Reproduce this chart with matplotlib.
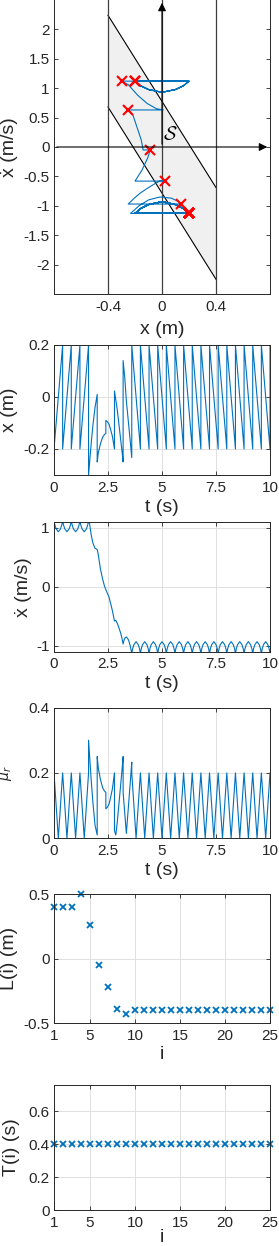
import matplotlib
matplotlib.use("Agg")
import matplotlib.pyplot as plt
import numpy as np

plt.rcParams["font.family"] = ["Liberation Sans", "DejaVu Sans"]
plt.rcParams["axes.unicode_minus"] = False

BLUE = "#0072BD"
DARK = "#262626"
W_PX, H_PX = 279, 1246

# one entry per reset i = 1..25 (reset i closes period i)
T_i = [0.4] * 25
L_i = [0.4, 0.4, 0.4, 0.5, 0.26, -0.05, -0.22, -0.39, -0.43] + [-0.4] * 16
x_before = [0.2, 0.2, 0.2, 0.2, 0.01, -0.14, -0.2, -0.25, -0.233] + [-0.2] * 16
x_after = [-0.2, -0.2, -0.2, -0.3, -0.25, -0.09, 0.023, 0.14, 0.2] + [0.2] * 16
xdot_reset = [1.12, 1.12, 1.12, 1.12, 0.63, -0.05, -0.58, -0.97, -1.13] + [-1.13] * 16
x_start, xdot_start = -0.2, 1.12

# steady periods: velocity scallop
scallop_frac = [0.1, 0.25, 0.5, 0.75, 0.9]
scallop_dip = [0.4, 0.75, 1.0, 0.75, 0.4]
xdot_mid = 0.93

# transient periods 5..9 (1.6 s - 3.6 s), samples inside each period
trans_t = [1.65, 1.72, 1.8, 1.9,
           2.05, 2.15, 2.25, 2.33,
           2.47, 2.55, 2.62, 2.7,
           2.86, 2.93, 3.0, 3.09, 3.15,
           3.23, 3.28, 3.35, 3.45, 3.53]
trans_x = [-0.25, -0.18, -0.11, -0.04,
           -0.215, -0.18, -0.155, -0.145,
           -0.095, -0.105, -0.125, -0.15,
           -0.01, -0.05, -0.1, -0.165, -0.21,
           0.115, 0.07, -0.015, -0.1, -0.17]
trans_xdot = [1.06, 0.88, 0.74, 0.65,
              0.54, 0.30, 0.13, 0.02,
              -0.11, -0.18, -0.28, -0.40,
              -0.57, -0.62, -0.69, -0.79, -0.88,
              -0.92, -0.87, -0.85, -0.9, -1.0]
trans_range = (1.6, 3.6)

# admissible band in the phase plane
band_x = [-0.4, 0.4]
band_upper = [2.24, -0.69]
band_lower = [0.68, -2.25]

TICK_FS = 11
LABEL_FS = 14


def build_trajectory():
    t, x, v = [0.0], [x_start], [xdot_start]
    t_end = np.cumsum(T_i)
    tt = np.array(trans_t)
    for k in range(len(T_i)):
        t0, t1 = t_end[k] - T_i[k], t_end[k]
        if trans_range[0] - 1e-9 <= t0 < trans_range[1] - 1e-9:
            sel = (tt > t0 + 1e-9) & (tt < t1 - 1e-9)
            for idx in np.where(sel)[0]:
                t.append(trans_t[idx])
                x.append(trans_x[idx])
                v.append(trans_xdot[idx])
        else:
            x0, v0 = x[-1], v[-1]
            mid = xdot_mid if v0 > 0 else -xdot_mid
            for f, d in zip(scallop_frac, scallop_dip):
                t.append(t0 + f * T_i[k])
                x.append(x0 + f * (x_before[k] - x0))
                v.append(v0 + d * (mid - v0))
        t += [t1, t1]
        x += [x_before[k], x_after[k]]
        v += [xdot_reset[k], xdot_reset[k]]
    return np.array(t), np.array(x), np.array(v)


def add_axes(fig, top_px, bottom_px):
    return fig.add_axes([54 / W_PX, 1 - bottom_px / H_PX, 216 / W_PX,
                         (bottom_px - top_px) / H_PX])


def style(ax, grid=True):
    for s in ax.spines.values():
        s.set_color(DARK)
        s.set_linewidth(0.7)
    ax.tick_params(direction="in", length=3, width=0.6, colors=DARK,
                   labelsize=TICK_FS, top=True, right=True)
    ax.tick_params(axis="x", pad=4)
    ax.tick_params(axis="y", pad=3)
    if grid:
        ax.grid(True, color="#e0e0e0", lw=0.7)
        ax.set_axisbelow(True)


def labels(ax, xlabel, ylabel, h_px, xlab_px, ylab_center_px, ysize=LABEL_FS):
    ax.set_xlabel(xlabel, fontsize=LABEL_FS, color=DARK, va="center")
    ax.set_ylabel(ylabel, fontsize=ysize, color=DARK, va="center")
    ax.xaxis.set_label_coords(0.5, -xlab_px / h_px)
    ax.yaxis.set_label_coords(-(54 - ylab_center_px) / 216, 0.5)


t, x, xdot = build_trajectory()
mu_r = np.abs(x)
i_idx = np.arange(1, len(L_i) + 1)

fig = plt.figure(figsize=(W_PX / 100, H_PX / 100), dpi=100)

# phase plane
ax1 = add_axes(fig, 0, 294)
ax1.fill_between(band_x, band_lower, band_upper, color="#f0f0f0", lw=0)
ax1.plot(band_x, band_upper, color="k", lw=0.8)
ax1.plot(band_x, band_lower, color="k", lw=0.8)
for xv in band_x:
    ax1.axvline(xv, color="#404040", lw=0.9)
ax1.axvline(0, color="#404040", lw=0.9)
ax1.annotate("", xy=(0.8, 0), xytext=(-0.8, 0),
             arrowprops=dict(arrowstyle="-|>", color="k", lw=0.8, mutation_scale=12))
ax1.annotate("", xy=(0, 2.5), xytext=(0, 0),
             arrowprops=dict(arrowstyle="-|>", color="k", lw=0.8, mutation_scale=12))
ax1.plot(x, xdot, color=BLUE, lw=0.8)
ax1.plot(x_after, xdot_reset, "x", color="red", ms=7, mew=1.5)
ax1.text(0.06, 0.2, r"$\mathcal{S}$", fontsize=14, math_fontfamily="cm",
         ha="center", va="center")
ax1.set_xlim(-0.8, 0.8)
ax1.set_ylim(-2.5, 2.5)
ax1.set_xticks([-0.4, 0, 0.4])
ax1.set_xticklabels(["-0.4", "0", "0.4"])
ax1.set_yticks(np.arange(-2, 2.01, 0.5))
ax1.set_yticklabels(["-2", "-1.5", "-1", "-0.5", "0", "0.5", "1", "1.5", "2"])
style(ax1, grid=False)
ax1.spines["top"].set_visible(False)
labels(ax1, "x (m)", "ẋ (m/s)", 294, 36, 10)

# x(t)
ax2 = add_axes(fig, 345, 475)
ax2.plot(t, x, color=BLUE, lw=0.8)
ax2.set_xlim(0, 10)
ax2.set_ylim(-0.3, 0.2)
ax2.set_yticks([-0.2, 0, 0.2])
ax2.set_yticklabels(["-0.2", "0", "0.2"])
style(ax2)
labels(ax2, "t (s)", "x (m)", 130, 32, 10)

# xdot(t)
ax3 = add_axes(fig, 521.7, 651.7)
ax3.plot(t, xdot, color=BLUE, lw=0.8)
ax3.set_xlim(0, 10)
ax3.set_ylim(-1.1, 1.1)
ax3.set_yticks([-1, 0, 1])
ax3.set_yticklabels(["-1", "0", "1"])
style(ax3)
labels(ax3, "t (s)", "ẋ (m/s)", 130, 32, 23)

# mu_r(t)
ax4 = add_axes(fig, 707.5, 838.3)
ax4.plot(t, mu_r, color=BLUE, lw=0.8)
ax4.set_xlim(0, 10)
ax4.set_ylim(0, 0.4)
ax4.set_yticks([0, 0.2, 0.4])
ax4.set_yticklabels(["0", "0.2", "0.4"])
style(ax4)
labels(ax4, "t (s)", r"$\mu_r$", 130.8, 32, 6, ysize=10)

for ax in (ax2, ax3, ax4):
    ax.set_xticks([0, 2.5, 5, 7.5, 10])
    ax.set_xticklabels(["0", "2.5", "5", "7.5", "10"])

# L(i)
ax5 = add_axes(fig, 894, 1023.3)
ax5.plot(i_idx, L_i, "x", color=BLUE, ms=4.5, mew=1.3, clip_on=False)
ax5.set_xlim(1, 25)
ax5.set_ylim(-0.5, 0.5)
ax5.set_yticks([-0.5, 0, 0.5])
ax5.set_yticklabels(["-0.5", "0", "0.5"])
style(ax5)
labels(ax5, "i", "L(i) (m)", 129.3, 31, 10)

# T(i)
ax6 = add_axes(fig, 1085, 1210)
ax6.plot(i_idx, T_i, "x", color=BLUE, ms=4.5, mew=1.3, clip_on=False)
ax6.set_xlim(1, 25)
ax6.set_ylim(0, 0.76)
ax6.set_yticks([0, 0.2, 0.4, 0.6])
ax6.set_yticklabels(["0", "0.2", "0.4", "0.6"])
style(ax6)
labels(ax6, "i", "T(i) (s)", 125, 27, 12)

for ax in (ax5, ax6):
    ax.set_xticks([1, 5, 10, 15, 20, 25])

fig.savefig("out.png", dpi=100)
